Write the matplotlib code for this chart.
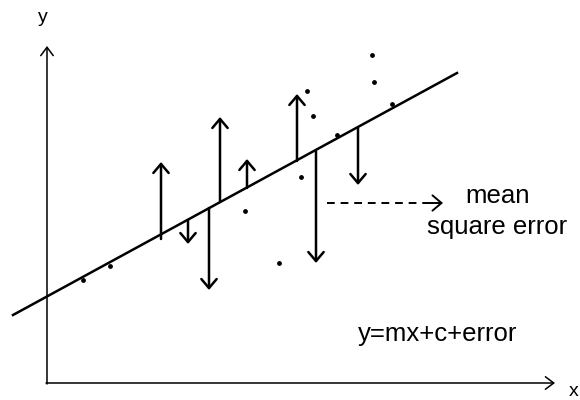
import matplotlib
matplotlib.use('Agg')
import matplotlib.pyplot as plt

# sketch of a regression line with residual arrows (pixel-like units)
line_x = [13, 457]
line_y = [315, 73]

dot_x = [83, 110, 245, 279, 301, 307, 313, 337, 372, 374, 392]
dot_y = [280, 266, 211, 263, 177, 91, 116, 135, 55, 82, 104]

# residual arrows: x, start on the line, tip
res_x = [161, 188, 209, 220, 247, 297, 316, 358]
res_start = [239, 220, 208, 202, 188, 161, 151, 128]
res_tip = [162, 244, 290, 117, 159, 94, 263, 185]

plt.rcParams['font.family'] = ['Liberation Sans', 'DejaVu Sans']

fig = plt.figure(figsize=(5.8, 4), dpi=100)
ax = fig.add_axes([0, 0, 1, 1])
ax.set_xlim(0, 580)
ax.set_ylim(400, 0)
ax.axis('off')

thin = dict(arrowstyle='->,head_length=0.6,head_width=0.45', lw=1.1, color='black',
            shrinkA=0, shrinkB=0, mutation_scale=10)
thick = dict(arrowstyle='->,head_length=0.65,head_width=0.55', lw=1.8, color='black',
             shrinkA=0, shrinkB=0, mutation_scale=10)

# axes
ax.annotate('', xy=(47, 46), xytext=(47, 384), arrowprops=thin)
ax.annotate('', xy=(555, 383), xytext=(46, 383), arrowprops=thin)
ax.text(43, 17, 'y', fontsize=14, ha='center', va='center')
ax.text(574, 391, 'x', fontsize=14, ha='center', va='center')

# regression line and points
ax.plot(line_x, line_y, color='black', lw=1.8)
ax.scatter(dot_x, dot_y, s=6, color='black')

for x, s, t in zip(res_x, res_start, res_tip):
    ax.annotate('', xy=(x, t), xytext=(x, s), arrowprops=thick)

# dashed pointer to the label
ax.plot([327, 436], [203, 203], color='black', lw=1.4, ls=(0, (4, 3)))
ax.annotate('', xy=(443, 203), xytext=(430, 203),
            arrowprops=dict(arrowstyle='->,head_length=0.65,head_width=0.55', lw=1.4,
                            color='black', shrinkA=0, shrinkB=0, mutation_scale=10))
ax.text(498, 196, 'mean', fontsize=18.5, ha='center', va='center')
ax.text(497, 227, 'square error', fontsize=18.5, ha='center', va='center')
ax.text(438, 334, 'y=mx+c+error', fontsize=18.5, ha='center', va='center')

fig.savefig('out.png', dpi=100)
